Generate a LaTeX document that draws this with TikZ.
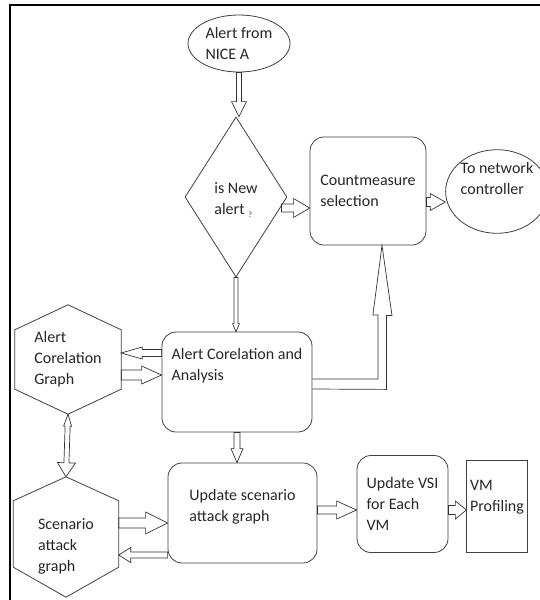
\documentclass[tikz,border=0pt]{standalone}
\usepackage{fontspec}
\setmainfont{Carlito}
\usetikzlibrary{calc,shapes.geometric}
\tikzset{bx/.append style={draw=black!75, thick, rounded corners=14pt, align=left}}
\tikzset{ov/.append style={draw=black!75, thick, ellipse, align=left, inner sep=0pt}}
\tikzset{dm/.append style={draw=black!75, thick, diamond, align=left, inner sep=0pt}}
\tikzset{hx/.append style={align=left}}
\tikzset{hl/.append style={draw=black!75, thick}}
% hollow arrow: half shaft / half head / head length
\tikzset{ar/.style args={#1/#2/#3}{draw=black!80, line width=0.7pt, to path={let \p1=(\tikztostart), \p2=(\tikztotarget), \n1={atan2(\y2-\y1,\x2-\x1)}, \n2={veclen(\x2-\x1,\y2-\y1)} in
    ([shift={(\p1)},rotate=\n1]0pt,#1pt) -- ([shift={(\p1)},rotate=\n1]\n2-#3pt,#1pt) -- ([shift={(\p1)},rotate=\n1]\n2-#3pt,#2pt) -- (\p2)
    -- ([shift={(\p1)},rotate=\n1]\n2-#3pt,-#2pt) -- ([shift={(\p1)},rotate=\n1]\n2-#3pt,-#1pt) -- ([shift={(\p1)},rotate=\n1]0pt,-#1pt) -- cycle}}}
% two heads: half shaft / first head / second head
\tikzset{arr/.style args={#1/#2/#3/#4/#5}{draw=black!80, line width=0.7pt, to path={let \p1=(\tikztostart), \p2=(\tikztotarget), \n1={atan2(\y2-\y1,\x2-\x1)}, \n2={veclen(\x2-\x1,\y2-\y1)} in
    (\p1) -- ([shift={(\p1)},rotate=\n1]#3pt,#2pt) -- ([shift={(\p1)},rotate=\n1]#3pt,#1pt) -- ([shift={(\p1)},rotate=\n1]\n2-#5pt,#1pt) -- ([shift={(\p1)},rotate=\n1]\n2-#5pt,#4pt) -- (\p2)
    -- ([shift={(\p1)},rotate=\n1]\n2-#5pt,-#4pt) -- ([shift={(\p1)},rotate=\n1]\n2-#5pt,-#1pt) -- ([shift={(\p1)},rotate=\n1]#3pt,-#1pt) -- ([shift={(\p1)},rotate=\n1]#3pt,-#2pt) -- cycle}}}

\begin{document}
\begin{tikzpicture}[x=1pt,y=-1pt,font=\fontsize{16}{21}\selectfont,text=black!85]
                \useasboundingbox (0,0) rectangle (540,600);
                \draw[line width=2pt] (10,600) -- (10,5) -- (540,5);
                % \SetUpNodes
                \node[ov, minimum width=102pt, minimum height=57pt] (alert) at (239,43.5) {Alert from\\NICE A};
                \node[dm, minimum width=102pt, minimum height=160pt, text height=38pt] (newq) at (236,197) {is New\\alert \raisebox{-3pt}{\footnotesize ?}};
                \node[bx, minimum width=116pt, minimum height=108pt] (cm) at (368,191) {Countmeasure\\selection};
                \node[ov, minimum width=96pt, minimum height=83pt, text depth=27pt] (net) at (497,191.5) {To network\\controller};
                \node[bx, minimum width=150pt, minimum height=100pt, text depth=36pt] (aca) at (237,382) {Alert Corelation and\\Analysis};
                \node[bx, minimum width=149pt, minimum height=100pt, text depth=16pt] (usag) at (242.5,513) {Update scenario\\attack graph};
                \node[bx, minimum width=91pt, minimum height=97pt] (vsi) at (402.5,504) {Update VSI\\for Each\\VM};
                \node[bx, sharp corners, minimum width=56pt, minimum height=92pt, text depth=20pt] (vm) at (497,506) {VM\\Profiling};
                \node[hx, minimum width=106pt, minimum height=109pt] (acg) at (68,359.5) {Alert\\Corelation\\Graph};
                \node[hx, minimum width=105pt, minimum height=120pt, text height=71pt] (sag) at (66,537) {Scenario\\attack\\graph};
                \draw[hl] (acg.north) -- ([yshift=-25pt]acg.north east) -- ([yshift=25pt]acg.south east) -- (acg.south) -- ([yshift=25pt]acg.south west) -- ([yshift=-25pt]acg.north west) -- cycle;
                \draw[hl] (sag.north) -- ([yshift=-24pt]sag.north east) -- ([yshift=30pt]sag.south east) -- (sag.south) -- ([yshift=30pt]sag.south west) -- ([yshift=-24pt]sag.north west) -- cycle;
                % hollow arrows
                \path (alert.south) edge[ar=2.5/7.5/15] (alert.south |- newq.north);
                \path ([xshift=-6pt,yshift=-11pt]newq.east) edge[ar=4/9.5/16] ([yshift=-11pt]newq.east -| cm.west);
                \path ([yshift=-11pt]cm.east) edge[ar=4.5/8.5/15] ([yshift=-11pt]cm.east -| net.west);
                \path (newq.south) edge[ar=2/3.5/8] (newq.south |- aca.north);
                \draw[draw=black!80, line width=0.7pt] ([yshift=3pt]aca.east) -- ++(65.5,0) -- ++(0,-64) -- ++(-5,0) -- ([xshift=14pt]cm.south)
                    -- ++(10,70) -- ++(-5.5,0) -- ++(0,74) -- ([yshift=-7pt]aca.east);
                \path (aca.south) edge[ar=3/6/14] (aca.south |- usag.north);
                \path ([yshift=3pt]usag.east) edge[ar=4/9/20] ([yshift=3pt]usag.east -| vsi.west);
                \path ([yshift=-6pt]vsi.east) edge[ar=4.5/9/11] ([yshift=-6pt]vsi.east -| vm.west);
                \path ([yshift=29pt]aca.west) edge[ar=3.5/6/21] ([yshift=29pt]aca.west -| acg.east);
                \path ([yshift=-15.5pt]acg.east) edge[ar=5/9/20] ([yshift=-15.5pt]acg.east -| aca.west);
                \path ([yshift=14pt]sag.east) edge[ar=5/11/22] ([yshift=14pt]sag.east -| usag.west);
                \path ([yshift=-42pt]usag.west) edge[ar=3/7.5/12] ([yshift=-42pt]usag.west -| sag.east);
                \path (acg.south) edge[arr=2.5/4/12/9/14] (sag.north);
            \end{tikzpicture}
\end{document}
